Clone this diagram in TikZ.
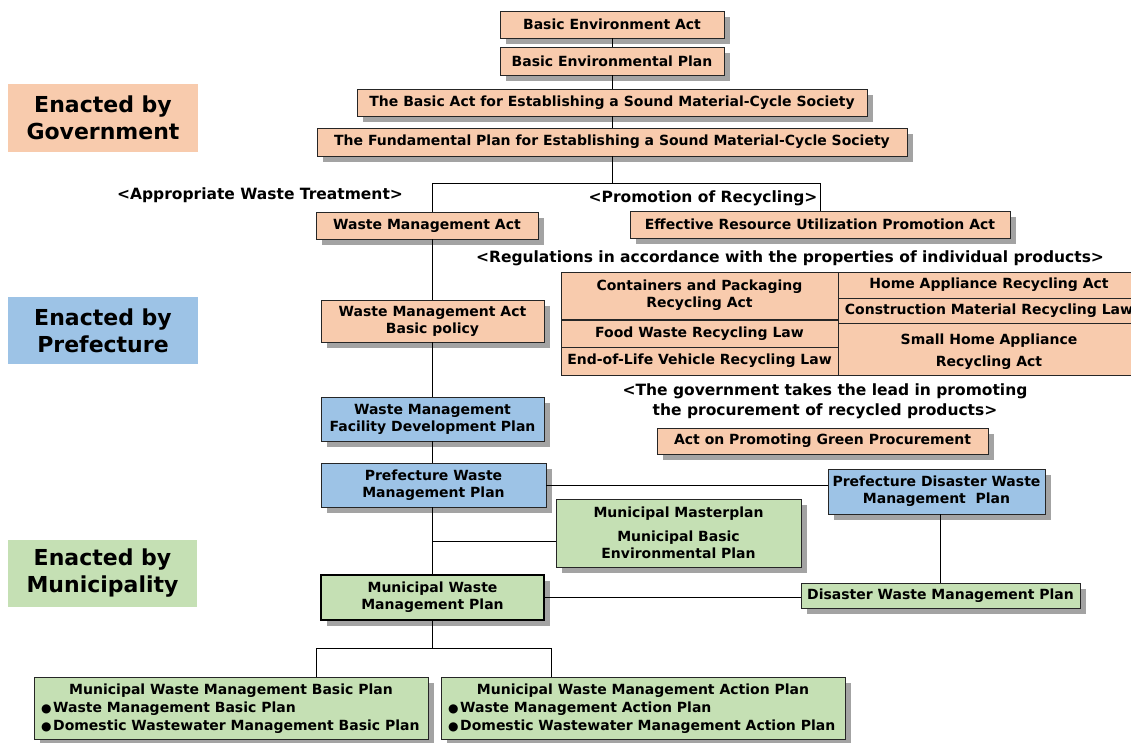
\documentclass[tikz,border=0pt]{standalone}
\usepackage{fontspec}
\setmainfont{DejaVu Sans}
\usetikzlibrary{shadows}
\definecolor{govfill}{HTML}{F8CBAD}
\definecolor{preffill}{HTML}{9DC3E6}
\definecolor{munifill}{HTML}{C5E0B4}
\definecolor{shadowgray}{HTML}{A3A3A3}
\definecolor{edge}{HTML}{262626}
\newcommand\dotitem{\raisebox{0.8pt}{\fontsize{12}{12}\selectfont ●}\hspace{1.5pt}}
\tikzset{
  corners/.style n args={4}{at={({(#1+#3)/2},{(#2+#4)/2})},
    minimum width={(#3-#1)*1pt}, minimum height={(#4-#2)*1pt}},
  boxtext/.style={font=\bfseries\fontsize{14}{17}\selectfont, align=center},
  lawbox/.style={boxtext, draw=edge, line width=0.9pt, inner sep=0pt,
    drop shadow={shadow xshift=6pt, shadow yshift=-6pt, fill=shadowgray, opacity=1}},
  govbox/.style={lawbox, fill=govfill},
  prefbox/.style={lawbox, fill=preffill},
  munibox/.style={lawbox, fill=munifill},
  cell/.style={boxtext, draw=edge, line width=0.9pt, fill=govfill, inner sep=0pt},
  tier/.style={inner sep=0pt, font=\bfseries\fontsize{22}{27}\selectfont, align=center},
  heading/.style={inner sep=0pt, font=\bfseries\fontsize{15.5}{20}\selectfont, align=center},
  plain/.style={inner sep=0pt, font=\bfseries\fontsize{14}{18}\selectfont},
  link/.style={draw=black, line width=0.9pt},
}
\begin{document}
\begin{tikzpicture}[x=1pt, y=-1pt]
\useasboundingbox (0,0) rectangle (1131,743);

% tier labels
\node[tier, fill=govfill,  corners={8}{84}{198}{152}]  (tgov)  {Enacted by\\Government};
\node[tier, fill=preffill, corners={8}{297}{198}{364}] (tpref) {Enacted by\\Prefecture};
\node[tier, fill=munifill, corners={8}{540}{197}{607}] (tmuni) {Enacted by\\Municipality};

% national framework
\node[govbox, corners={500}{11}{724}{38}]   (bea) {Basic Environment Act};
\node[govbox, corners={500}{47}{724}{75}]   (bep) {Basic Environmental Plan};
\node[govbox, corners={357}{89}{867}{116}]  (bam) {The Basic Act for Establishing a Sound Material-Cycle Society};
\node[govbox, corners={317}{128}{907}{156}] (fpm) {The Fundamental Plan for Establishing a Sound Material-Cycle Society};

\node[heading] (hawt) at (260,195) {<Appropriate Waste Treatment>};
\node[heading] (hpor) at (703,198) {<Promotion of Recycling>};

\node[govbox, corners={316}{212}{538}{239}]  (wma)  {Waste Management Act};
\node[govbox, corners={630}{211}{1010}{238}] (erup) {Effective Resource Utilization Promotion Act};

\node[heading] (hreg) at (790,258) {<Regulations in accordance with the properties of individual products>};

% individual recycling laws
\node[cell, corners={561}{272}{838}{319}]  (cpr) {Containers and Packaging\\Recycling Act};
\node[cell, corners={561}{320}{838}{347}]  (fwr) {Food Waste Recycling Law};
\node[cell, corners={561}{347}{838}{375}]  (elv) {End-of-Life Vehicle Recycling Law};
\node[cell, corners={838}{272}{1140}{298}] (har) {Home Appliance Recycling Act};
\node[cell, corners={838}{298}{1140}{323}] (cmr) {Construction Material Recycling Law};
\node[cell, corners={838}{323}{1140}{375}, font=\bfseries\fontsize{14}{22}\selectfont] (shr) {\\[-6pt]Small Home Appliance\\Recycling Act};

\node[heading] (hgp) at (825,401) {<The government takes the lead in promoting\\the procurement of recycled products>};
\node[govbox, corners={657}{428}{988}{454}] (gpa) {Act on Promoting Green Procurement};

% prefecture and municipality plans
\node[govbox,  corners={321}{300}{544}{342}] (wmbp) {Waste Management Act\\Basic policy};
\node[prefbox, corners={321}{397}{544}{441}] (wmfd) {Waste Management\\Facility Development Plan};
\node[prefbox, corners={321}{463}{546}{507}] (pwmp) {Prefecture Waste\\Management Plan};
\node[prefbox, corners={828}{469}{1045}{514}] (pdwm) {Prefecture Disaster Waste\\Management\ \ Plan};
\node[munibox, corners={556}{499}{801}{567}] (mmp) {Municipal Masterplan\\[7pt]Municipal Basic\\Environmental Plan};
\node[munibox, line width=2.4pt, draw=black, corners={321}{575}{544}{620}] (mwmp) {Municipal Waste\\Management Plan};
\node[munibox, corners={801}{583}{1080}{608}] (dwmp) {Disaster Waste Management Plan};

\node[munibox, corners={34}{677}{428}{739}]  (mbp) {};
\node[munibox, corners={441}{677}{845}{739}] (map) {};
\node[plain] (mbpt) at (231,691) {Municipal Waste Management Basic Plan};
\node[plain, anchor=west] (mbp1) at (41,709) {\dotitem Waste Management Basic Plan};
\node[plain, anchor=west] (mbp2) at (41,727) {\dotitem Domestic Wastewater Management Basic Plan};
\node[plain] (mapt) at (643,691) {Municipal Waste Management Action Plan};
\node[plain, anchor=west] (map1) at (448,709) {\dotitem Waste Management Action Plan};
\node[plain, anchor=west] (map2) at (448,727) {\dotitem Domestic Wastewater Management Action Plan};

% connectors
\coordinate (sp) at (432,0);
\coordinate (jy) at (0,183);
\coordinate (mj) at (0,541);
\coordinate (dx) at (940,0);
\coordinate (bl) at (316,648);
\coordinate (br) at (551,648);

\draw[link] (bea.south) -- (bep.north);
\draw[link] (bep.south) -- (bam.north);
\draw[link] (bam.south) -- (fpm.north);
\draw[link] (fpm.south) -- (fpm.south |- jy);
\draw[link] (wma.north -| sp) -- (sp |- jy) -- (erup.north |- jy) -- (erup.north);
\draw[link] (wma.south -| sp) -- (wmbp.north -| sp);
\draw[link] (wmbp.south -| sp) -- (wmfd.north -| sp);
\draw[link] (wmfd.south -| sp) -- (pwmp.north -| sp);
\draw[link] (pwmp.south -| sp) -- (mwmp.north -| sp);
\draw[link] (sp |- mj) -- (mmp.west |- mj);
\draw[link] (pwmp.east) -- (pwmp.east -| pdwm.west);
\draw[link] (mwmp.east) -- (mwmp.east -| dwmp.west);
\draw[link] (pdwm.south -| dx) -- (dwmp.north -| dx);
\draw[link] (mwmp.south -| sp) -- (sp |- bl);
\draw[link] (mbp.north -| bl) -- (bl) -- (br) -- (map.north -| br);
\end{tikzpicture}
\end{document}
